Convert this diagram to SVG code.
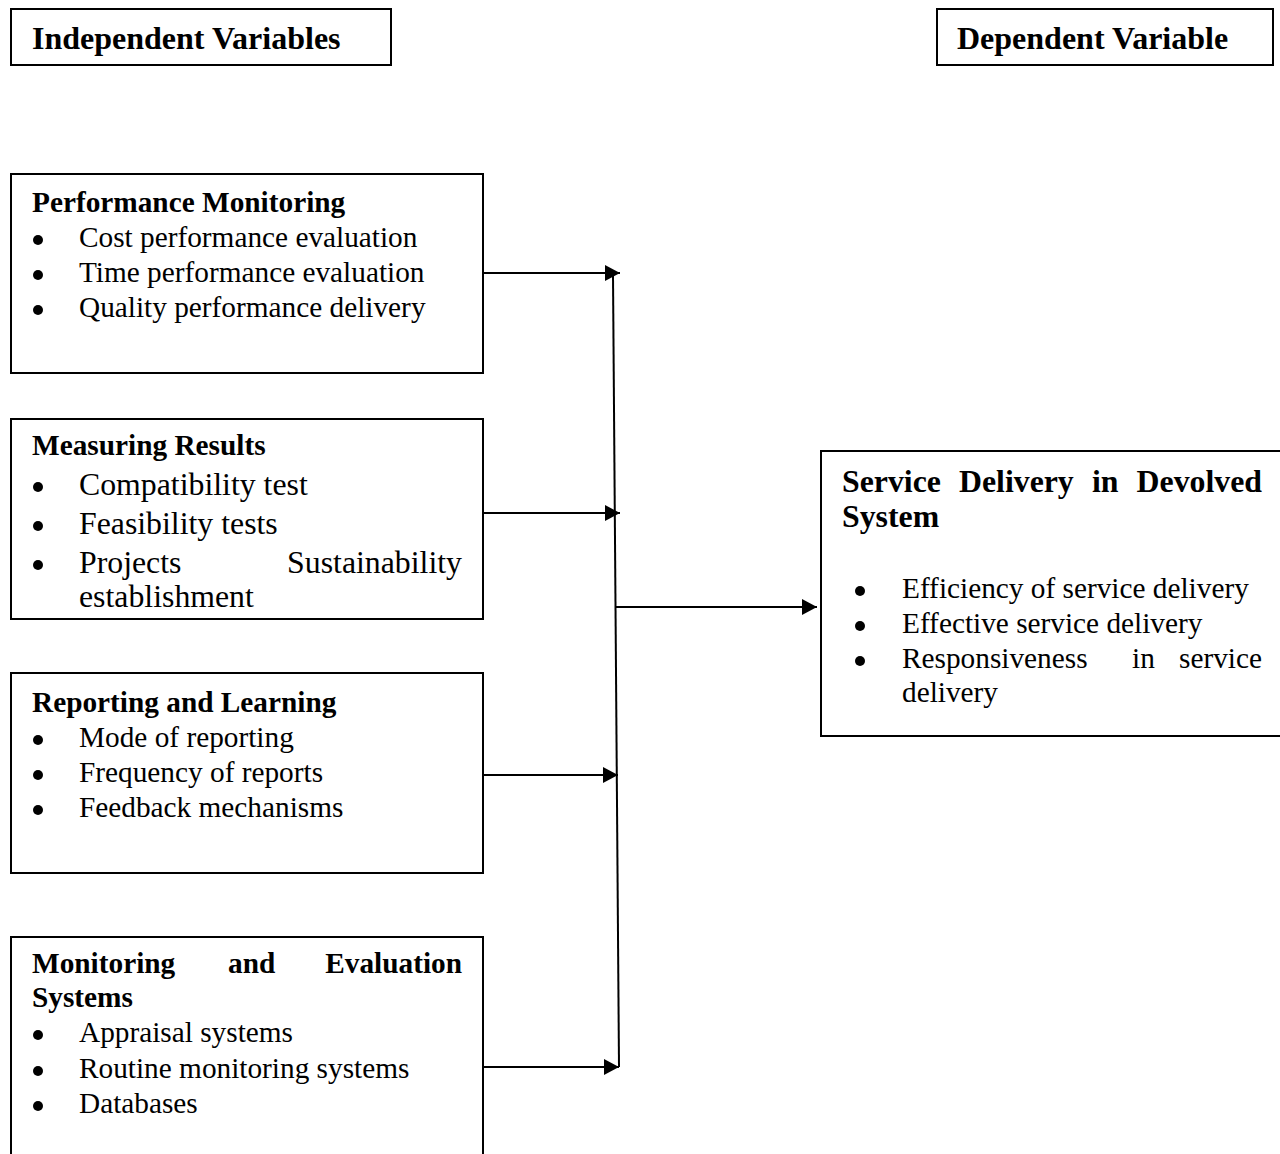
<svg xmlns="http://www.w3.org/2000/svg" width="1280" height="1154" viewBox="0 0 1280 1154">
<defs>
<style>
.box{fill:#fff;stroke:#000;stroke-width:2}
.t{font-family:"Liberation Serif","Times New Roman",serif;fill:#000}
.b{font-weight:bold}
.f29{font-size:29.3px}
.f31{font-size:31.8px}
.f32{font-size:32px}
.dot{fill:#000}
.con{stroke:#000;stroke-width:2;fill:none}
</style>
<marker id="ah" viewBox="0 0 15 16" refX="15" refY="8" markerWidth="15" markerHeight="16" markerUnits="userSpaceOnUse" orient="auto">
<path d="M0,0 L15,8 L0,16 z" fill="#000"/>
</marker>
</defs>
<rect width="1280" height="1154" fill="#fff"/>

<g id="title-independent">
<rect class="box" x="11" y="9" width="380" height="56"/>
<text class="t b f32" x="32" y="49">Independent Variables</text>
</g>

<g id="title-dependent">
<rect class="box" x="937" y="9" width="336" height="56"/>
<text class="t b f32" x="957" y="49">Dependent Variable</text>
</g>

<g id="performance-monitoring">
<rect class="box" x="11" y="174" width="472" height="199"/>
<text class="t b f29" x="32" y="212">Performance Monitoring</text>
<circle class="dot" cx="38" cy="240" r="5"/>
<circle class="dot" cx="38" cy="275" r="5"/>
<circle class="dot" cx="38" cy="310" r="5"/>
<text class="t f29" x="79" y="247">Cost performance evaluation</text>
<text class="t f29" x="79" y="282">Time performance evaluation</text>
<text class="t f29" x="79" y="317">Quality performance delivery</text>
</g>

<g id="measuring-results">
<rect class="box" x="11" y="419" width="472" height="200"/>
<text class="t b f29" x="32" y="455">Measuring Results</text>
<circle class="dot" cx="38" cy="487" r="5"/>
<circle class="dot" cx="38" cy="526" r="5"/>
<circle class="dot" cx="38" cy="565" r="5"/>
<text class="t f31" x="79" y="495">Compatibility test</text>
<text class="t f31" x="79" y="534">Feasibility tests</text>
<text class="t f31" y="573"><tspan x="79">Projects</tspan><tspan x="462" text-anchor="end">Sustainability</tspan></text>
<text class="t f31" x="79" y="607">establishment</text>
</g>

<g id="reporting-learning">
<rect class="box" x="11" y="673" width="472" height="200"/>
<text class="t b f29" x="32" y="712">Reporting and Learning</text>
<circle class="dot" cx="38" cy="740" r="5"/>
<circle class="dot" cx="38" cy="775" r="5"/>
<circle class="dot" cx="38" cy="810" r="5"/>
<text class="t f29" x="79" y="747">Mode of reporting</text>
<text class="t f29" x="79" y="782">Frequency of reports</text>
<text class="t f29" x="79" y="817">Feedback mechanisms</text>
</g>

<g id="me-systems">
<rect class="box" x="11" y="937" width="472" height="240"/>
<text class="t b f29" y="973"><tspan x="32">Monitoring</tspan><tspan x="228">and</tspan><tspan x="462" text-anchor="end">Evaluation</tspan></text>
<text class="t b f29" x="32" y="1007">Systems</text>
<circle class="dot" cx="38" cy="1035" r="5"/>
<circle class="dot" cx="38" cy="1071" r="5"/>
<circle class="dot" cx="38" cy="1106" r="5"/>
<text class="t f29" x="79" y="1042">Appraisal systems</text>
<text class="t f29" x="79" y="1078">Routine monitoring systems</text>
<text class="t f29" x="79" y="1113">Databases</text>
</g>

<g id="service-delivery">
<rect class="box" x="821" y="451" width="480" height="285"/>
<text class="t b f31" y="492"><tspan x="842">Service</tspan><tspan x="959">Delivery</tspan><tspan x="1092">in</tspan><tspan x="1262" text-anchor="end">Devolved</tspan></text>
<text class="t b f31" x="842" y="527">System</text>
<circle class="dot" cx="860" cy="591" r="5"/>
<circle class="dot" cx="860" cy="626" r="5"/>
<circle class="dot" cx="860" cy="661" r="5"/>
<text class="t f29" x="902" y="598">Efficiency of service delivery</text>
<text class="t f29" x="902" y="633">Effective service delivery</text>
<text class="t f29" y="668"><tspan x="902">Responsiveness</tspan><tspan x="1132">in</tspan><tspan x="1262" text-anchor="end">service</tspan></text>
<text class="t f29" x="902" y="702">delivery</text>
</g>

<g id="connectors">
<line class="con" x1="483" y1="273" x2="620" y2="273" marker-end="url(#ah)"/>
<line class="con" x1="483" y1="513" x2="620" y2="513" marker-end="url(#ah)"/>
<line class="con" x1="483" y1="775" x2="618" y2="775" marker-end="url(#ah)"/>
<line class="con" x1="483" y1="1067" x2="619" y2="1067" marker-end="url(#ah)"/>
<line class="con" x1="613" y1="276" x2="619" y2="1067"/>
<line class="con" x1="615" y1="607" x2="817" y2="607" marker-end="url(#ah)"/>
</g>
</svg>
